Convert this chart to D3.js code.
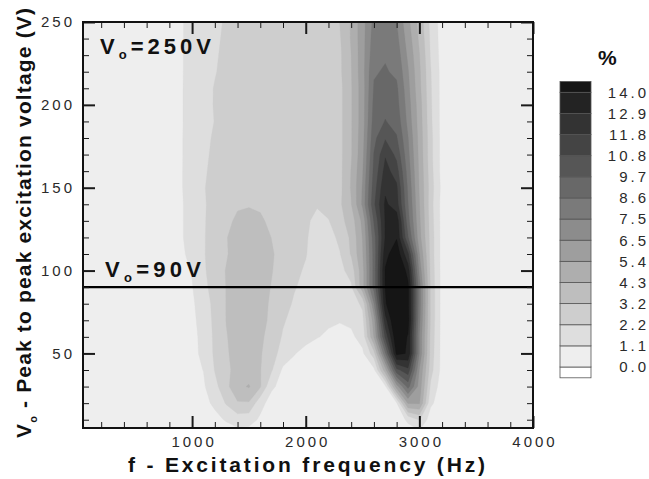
<!DOCTYPE html>
<html>
<head>
<meta charset="utf-8">
<script src="https://cdn.jsdelivr.net/npm/d3@7"></script>
<style>
  html, body { margin: 0; padding: 0; background: #ffffff; }
  svg { display: block; }
  text { font-family: "Liberation Sans", Arial, Helvetica, sans-serif; }
</style>
</head>
<body>
<svg id="chart" width="649" height="479"></svg>
<script>
// Grid coordinates: excitation frequency (Hz) columns and peak-to-peak voltage (V) rows
const freqs = [0, 100, 200, 300, 400, 500, 600, 700, 800, 900, 1000, 1100, 1200, 1300, 1400,
  1500, 1600, 1700, 1800, 1900, 2000, 2100, 2200, 2300, 2400, 2500, 2600, 2700, 2800, 2900,
  3000, 3100, 3200, 3300, 3400, 3500, 3600, 3700, 3800, 3900, 4000];
const volts = [250, 240, 230, 220, 210, 200, 190, 180, 170, 160, 150, 140, 130,
  120, 110, 100, 90, 80, 70, 60, 50, 40, 30, 20, 10, 0];

// Response (%) on the grid, one row per voltage in `volts`, one column per frequency in `freqs`
const pct = [
  [0.5,0.5,0.5,0.5,0.5,0.5,0.5,0.5, 0.6,1.0,1.4,1.7,2.0,2.3,2.5,2.6,2.7,2.7,2.7,2.7,2.7,2.7,2.8,3.22,4.4,6.1,7.8,8.2,7.5,5.7,3.9,1.9,0.6,0.5, 0.5,0.5,0.5,0.5,0.5,0.5,0.5],
  [0.5,0.5,0.5,0.5,0.5,0.5,0.5,0.5, 0.6,1.0,1.4,1.75,2.05,2.35,2.55,2.65,2.7,2.7,2.7,2.7,2.7,2.7,2.8,3.1,4.4,6.1,8.0,8.35,7.8,6.0,4.1,2.0,0.6,0.5, 0.5,0.5,0.5,0.5,0.5,0.5,0.5],
  [0.5,0.5,0.5,0.5,0.5,0.5,0.5,0.5, 0.6,1.0,1.45,1.8,2.1,2.4,2.6,2.7,2.7,2.7,2.7,2.7,2.7,2.7,2.8,3.0,4.3,6.1,8.2,8.5,8.1,6.3,4.35,2.1,0.65,0.5, 0.5,0.5,0.5,0.5,0.5,0.5,0.5],
  [0.5,0.5,0.5,0.5,0.5,0.5,0.5,0.5, 0.6,1.0,1.45,1.85,2.15,2.45,2.6,2.7,2.7,2.7,2.7,2.7,2.7,2.7,2.8,3.0,4.25,6.1,8.5,8.7,8.4,6.6,4.5,2.25,0.7,0.5, 0.5,0.5,0.5,0.5,0.5,0.5,0.5],
  [0.5,0.5,0.5,0.5,0.5,0.5,0.5,0.5, 0.6,1.0,1.5,1.9,2.25,2.5,2.65,2.7,2.7,2.7,2.7,2.7,2.7,2.7,2.8,2.9,4.2,6.0,8.7,9.05,8.8,6.8,4.6,2.3,0.7,0.5, 0.5,0.5,0.5,0.5,0.5,0.5,0.5],
  [0.5,0.5,0.5,0.5,0.5,0.5,0.5,0.5, 0.6,1.0,1.5,1.95,2.25,2.5,2.7,2.75,2.75,2.7,2.7,2.7,2.7,2.7,2.8,2.9,4.2,6.0,8.9,9.4,9.0,7.0,4.8,2.35,0.7,0.5, 0.5,0.5,0.5,0.5,0.5,0.5,0.5],
  [0.5,0.5,0.5,0.5,0.5,0.5,0.5,0.5, 0.6,1.0,1.5,1.95,2.22,2.55,2.75,2.8,2.8,2.75,2.7,2.7,2.7,2.7,2.8,2.9,4.2,6.0,9.1,9.75,9.3,7.2,4.9,2.4,0.7,0.5, 0.5,0.5,0.5,0.5,0.5,0.5,0.5],
  [0.5,0.5,0.5,0.5,0.5,0.5,0.5,0.5, 0.6,1.0,1.55,2.0,2.3,2.6,2.8,2.85,2.85,2.8,2.7,2.7,2.7,2.7,2.8,2.9,4.2,6.1,9.4,10.7,9.8,7.55,5.0,2.5,0.7,0.5, 0.5,0.5,0.5,0.5,0.5,0.5,0.5],
  [0.5,0.5,0.5,0.5,0.5,0.5,0.5,0.5, 0.6,1.0,1.55,2.05,2.35,2.65,2.85,2.9,2.9,2.8,2.7,2.7,2.65,2.65,2.75,2.9,4.2,6.2,9.75,11.7,10.5,7.8,5.1,2.5,0.7,0.5, 0.5,0.5,0.5,0.5,0.5,0.5,0.5],
  [0.5,0.5,0.5,0.5,0.5,0.5,0.5,0.5, 0.6,1.0,1.6,2.1,2.4,2.7,2.9,2.95,2.95,2.85,2.7,2.65,2.6,2.55,2.7,2.9,4.35,6.4,10.0,12.2,11.3,8.1,5.2,2.6,0.7,0.5, 0.5,0.5,0.5,0.5,0.5,0.5,0.5],
  [0.5,0.5,0.5,0.5,0.5,0.5,0.5,0.5, 0.6,1.0,1.6,2.15,2.45,2.75,3.0,3.05,3.0,2.9,2.7,2.6,2.5,2.45,2.65,2.9,4.4,6.6,10.3,12.7,12.0,8.4,5.3,2.7,0.8,0.5, 0.5,0.5,0.5,0.5,0.5,0.5,0.5],
  [0.5,0.5,0.5,0.5,0.5,0.5,0.5,0.5, 0.6,0.95,1.6,2.1,2.5,2.85,3.1,3.15,3.1,2.95,2.7,2.55,2.4,2.3,2.6,3.0,4.25,6.7,10.6,13.1,12.3,8.65,5.45,2.6,0.7,0.5, 0.5,0.5,0.5,0.5,0.5,0.5,0.5],
  [0.5,0.5,0.5,0.5,0.5,0.5,0.5,0.5, 0.6,0.95,1.6,2.1,2.6,3.0,3.35,3.4,3.3,3.05,2.8,2.6,2.4,1.9,2.15,2.85,3.7,5.7,9.8,13.0,13.6,9.0,5.6,2.7,0.7,0.5, 0.5,0.5,0.5,0.5,0.5,0.5,0.5],
  [0.5,0.5,0.5,0.5,0.5,0.5,0.5,0.5, 0.6,0.95,1.6,2.1,2.7,3.15,3.6,3.7,3.6,3.18,2.9,2.65,2.3,1.8,1.85,2.4,3.4,5.45,9.2,13.0,13.9,9.8,5.8,2.8,0.7,0.5, 0.5,0.5,0.5,0.5,0.5,0.5,0.5],
  [0.5,0.5,0.5,0.5,0.5,0.5,0.5,0.5, 0.6,0.9,1.4,2.1,2.75,3.1,3.7,3.8,3.75,3.3,2.85,2.55,2.25,1.75,1.6,2.15,3.3,5.3,9.0,13.6,14.8,12.0,6.55,2.8,0.7,0.5, 0.5,0.5,0.5,0.5,0.5,0.5,0.5],
  [0.5,0.5,0.5,0.5,0.5,0.5,0.5,0.5, 0.6,0.85,1.15,2.05,2.7,3.25,3.7,3.8,3.75,3.25,2.75,2.4,2.1,1.7,1.5,1.9,2.6,5.0,9.0,14.1,15.8,13.5,7.2,2.9,0.7,0.5, 0.5,0.5,0.5,0.5,0.5,0.5,0.5],
  [0.5,0.5,0.5,0.5,0.5,0.5,0.5,0.5, 0.6,0.8,1.05,1.9,2.65,3.22,3.65,3.75,3.6,3.15,2.65,2.25,2.0,1.7,1.5,1.7,2.05,5.0,9.0,14.05,16.0,14.3,8.0,3.0,0.7,0.5, 0.5,0.5,0.5,0.5,0.5,0.5,0.5],
  [0.5,0.5,0.5,0.5,0.5,0.5,0.5,0.5, 0.6,0.75,0.95,1.6,2.55,3.22,3.6,3.7,3.55,3.05,2.5,2.1,1.85,1.6,1.4,1.35,1.7,2.4,7.45,13.8,16.0,14.3,8.0,3.0,0.7,0.5, 0.5,0.5,0.5,0.5,0.5,0.5,0.5],
  [0.5,0.5,0.5,0.5,0.5,0.5,0.5,0.5, 0.6,0.75,0.9,1.45,2.5,3.22,3.6,3.7,3.5,3.0,2.3,1.9,1.6,1.4,1.25,1.15,1.3,1.9,6.0,12.5,15.5,14.5,7.8,3.0,0.7,0.5, 0.5,0.5,0.5,0.5,0.5,0.5,0.5],
  [0.5,0.5,0.5,0.5,0.5,0.5,0.5,0.5, 0.6,0.7,0.9,1.3,2.45,3.15,3.55,3.65,3.4,2.8,2.1,1.7,1.4,1.15,0.95,0.85,0.9,1.5,5.45,11.0,15.0,13.9,7.45,2.9,0.7,0.5, 0.5,0.5,0.5,0.5,0.5,0.5,0.5],
  [0.5,0.5,0.5,0.5,0.5,0.5,0.5,0.5, 0.6,0.7,0.85,1.3,2.4,3.1,3.5,3.6,3.3,2.6,1.8,1.15,0.8,0.6,0.5,0.5,0.6,0.9,2.8,8.5,14.3,13.9,7.45,2.8,0.7,0.5, 0.5,0.5,0.5,0.5,0.5,0.5,0.5],
  [0.5,0.5,0.5,0.5,0.5,0.5,0.5,0.5, 0.6,0.65,0.8,1.12,2.25,3.0,3.5,3.65,3.25,2.3,0.9,0.75,0.55,0.5,0.5,0.5,0.5,0.6,0.85,5.0,10.5,11.5,6.45,2.6,0.7,0.5, 0.5,0.5,0.5,0.5,0.5,0.5,0.5],
  [0.5,0.5,0.5,0.5,0.5,0.5,0.5,0.5, 0.6,0.6,0.7,0.95,1.9,2.9,4.0,4.4,3.3,1.3,0.7,0.5,0.5,0.5,0.5,0.5,0.5,0.5,0.6,0.9,6.0,9.0,6.05,2.0,0.5,0.5, 0.5,0.5,0.5,0.5,0.5,0.5,0.5],
  [0.5,0.5,0.5,0.5,0.5,0.5,0.5,0.5, 0.5,0.5,0.6,0.8,1.3,2.3,3.1,3.1,1.5,0.6,0.5,0.5,0.5,0.5,0.5,0.5,0.5,0.5,0.5,0.6,1.0,5.5,5.5,1.3,0.5,0.5, 0.5,0.5,0.5,0.5,0.5,0.5,0.5],
  [0.5,0.5,0.5,0.5,0.5,0.5,0.5,0.5, 0.5,0.5,0.5,0.6,0.8,1.2,1.7,1.6,0.9,0.5,0.5,0.5,0.5,0.5,0.5,0.5,0.5,0.5,0.5,0.5,0.5,1.3,2.3,0.5,0.5,0.5, 0.5,0.5,0.5,0.5,0.5,0.5,0.5],
  [0.4,0.4,0.4,0.4,0.4,0.4,0.4,0.4, 0.4,0.4,0.4,0.4,0.4,0.4,0.4,0.4,0.4,0.4,0.4,0.4,0.4,0.4,0.4,0.4,0.4,0.4,0.4,0.4,0.4,0.4,0.4,0.4,0.4,0.4, 0.4,0.4,0.4,0.4,0.4,0.4,0.4]
];

// Contour levels (%) and fill for each band: below 0, then at/above each level
const levels = [0.0, 1.1, 2.2, 3.2, 4.3, 5.4, 6.5, 7.5, 8.6, 9.7, 10.8, 11.8, 12.9, 14.0];
const levelLabels = ["0.0", "1.1", "2.2", "3.2", "4.3", "5.4", "6.5", "7.5", "8.6", "9.7", "10.8", "11.8", "12.9", "14.0"];
const bandColors = ["#ffffff", "#eeeeee", "#dedede", "#cecece", "#bebebe", "#aeaeae", "#9e9e9e",
  "#8c8c8c", "#7a7a7a", "#686868", "#565656", "#444444", "#333333", "#232323", "#151515", "#080808"];

// Axis ticks and annotations
const xMajor = [1000, 2000, 3000, 4000];
const yMajor = [50, 100, 150, 200, 250];
const markVoltage = 90;

const svg = d3.select("#chart");
svg.append("rect").attr("width", 649).attr("height", 479).attr("fill", "#ffffff");

const x = d3.scaleLinear().domain([40, 4000]).range([83, 533]);
const y = d3.scaleLinear().domain([5, 250]).range([428, 22]);

svg.append("defs").append("clipPath").attr("id", "plotClip")
  .append("rect").attr("x", x.range()[0]).attr("y", y.range()[1])
  .attr("width", x.range()[1] - x.range()[0]).attr("height", y.range()[0] - y.range()[1]);

// Filled contours: grid cell (i, j) sits at (i + 0.5, j + 0.5) in contour coordinates
const nx = freqs.length, ny = volts.length;
const df = freqs[1] - freqs[0], dv = volts[1] - volts[0];
const gridToScreen = d3.geoTransform({
  point(gx, gy) {
    this.stream.point(x(freqs[0] + (gx - 0.5) * df), y(volts[0] + (gy - 0.5) * dv));
  }
});
const contourPath = d3.geoPath(gridToScreen);
const bands = d3.contours().size([nx, ny]).thresholds(levels)(pct.flat());

svg.append("g").attr("clip-path", "url(#plotClip)")
  .selectAll("path").data(bands).join("path")
  .attr("d", contourPath)
  .attr("fill", (d, i) => bandColors[i + 1])
  .attr("stroke", (d, i) => bandColors[i + 1])
  .attr("stroke-width", 0.3);

// Reference voltage line
svg.append("line")
  .attr("x1", x(40)).attr("x2", x(4000))
  .attr("y1", y(markVoltage)).attr("y2", y(markVoltage))
  .attr("stroke", "#000").attr("stroke-width", 2.4);

// Axes with inward ticks on all four sides
const xMinor = d3.range(200, 4000, 200).filter(v => v % 1000 !== 0);
const yMinor = d3.range(10, 250, 10).filter(v => v % 50 !== 0);

function styleAxis(g, width) {
  g.select(".domain").remove();
  g.selectAll(".tick line").attr("stroke", "#1a1a1a").attr("stroke-width", width);
  g.selectAll("text")
    .attr("font-family", "'Liberation Sans', Arial, sans-serif")
    .attr("font-size", 15).attr("fill", "#2a2a2a").attr("letter-spacing", 3);
}

const gx = svg.append("g").attr("transform", `translate(0,${y.range()[0]})`)
  .call(d3.axisBottom(x).tickValues(xMajor).tickSize(-12).tickPadding(8).tickFormat(d3.format("d")))
  .call(g => styleAxis(g, 2));
gx.selectAll("text").attr("dx", 1.5);
svg.append("g").attr("transform", `translate(0,${y.range()[0]})`)
  .call(d3.axisBottom(x).tickValues(xMinor).tickSize(-6).tickFormat(""))
  .call(g => styleAxis(g, 1));
svg.append("g").attr("transform", `translate(0,${y.range()[1]})`)
  .call(d3.axisTop(x).tickValues(xMajor).tickSize(-12).tickFormat(""))
  .call(g => styleAxis(g, 2));
svg.append("g").attr("transform", `translate(0,${y.range()[1]})`)
  .call(d3.axisTop(x).tickValues(xMinor).tickSize(-6).tickFormat(""))
  .call(g => styleAxis(g, 1));

svg.append("g").attr("transform", `translate(${x.range()[0]},0)`)
  .call(d3.axisLeft(y).tickValues(yMajor).tickSize(-12).tickPadding(8).tickFormat(d3.format("d")))
  .call(g => styleAxis(g, 2));
svg.append("g").attr("transform", `translate(${x.range()[0]},0)`)
  .call(d3.axisLeft(y).tickValues(yMinor).tickSize(-6).tickFormat(""))
  .call(g => styleAxis(g, 1));
svg.append("g").attr("transform", `translate(${x.range()[1]},0)`)
  .call(d3.axisRight(y).tickValues(yMajor).tickSize(-12).tickFormat(""))
  .call(g => styleAxis(g, 2));
svg.append("g").attr("transform", `translate(${x.range()[1]},0)`)
  .call(d3.axisRight(y).tickValues(yMinor).tickSize(-6).tickFormat(""))
  .call(g => styleAxis(g, 1));

// Plot frame
svg.append("rect")
  .attr("x", x.range()[0]).attr("y", y.range()[1])
  .attr("width", x.range()[1] - x.range()[0]).attr("height", y.range()[0] - y.range()[1])
  .attr("fill", "none").attr("stroke", "#111").attr("stroke-width", 2);

// In-plot annotations
function voltLabel(px, py, value, len) {
  const t = svg.append("text").attr("x", px).attr("y", py)
    .attr("font-size", 22).attr("font-weight", "bold").attr("fill", "#111")
    .attr("textLength", len).attr("lengthAdjust", "spacing");
  t.append("tspan").text("V");
  t.append("tspan").attr("font-size", 13).attr("dy", 5).text("o");
  t.append("tspan").attr("dy", -5).text(`=${value}V`);
}
voltLabel(100, 54, 250, 111);
voltLabel(105, 277, markVoltage, 96);

// Axis titles
svg.append("text").attr("x", 128).attr("y", 472)
  .attr("font-size", 21).attr("font-weight", "bold").attr("fill", "#111")
  .attr("textLength", 357).attr("lengthAdjust", "spacing")
  .text("f - Excitation frequency (Hz)");

const yTitle = svg.append("text").attr("transform", "translate(31,438) rotate(-90)")
  .attr("font-size", 21).attr("font-weight", "bold").attr("fill", "#111")
  .attr("textLength", 430).attr("lengthAdjust", "spacing");
yTitle.append("tspan").text("V");
yTitle.append("tspan").attr("font-size", 11).attr("dy", 6).text("o");
yTitle.append("tspan").attr("dy", -6).text(" - Peak to peak excitation voltage (V)");

// Colour legend
const ly = d3.scaleLinear().domain([0, levels.length - 1]).range([367, 92.3]);
const legend = svg.append("g");
const boxX = 560, boxW = 31, half = 10.8;
const boxes = [];
boxes.push({ y0: ly(0), y1: ly(0) + half, fill: bandColors[0] });
for (let k = 0; k < levels.length - 1; k++) {
  boxes.push({ y0: ly(k + 1), y1: ly(k), fill: bandColors[k + 1] });
}
boxes.push({ y0: ly(levels.length - 1) - half, y1: ly(levels.length - 1), fill: bandColors[levels.length] });
legend.selectAll("rect").data(boxes).join("rect")
  .attr("x", boxX).attr("width", boxW)
  .attr("y", d => d.y0).attr("height", d => d.y1 - d.y0)
  .attr("fill", d => d.fill).attr("stroke", "#555").attr("stroke-width", 0.8);
legend.selectAll("text").data(levelLabels).join("text")
  .attr("x", 649).attr("y", (d, i) => ly(i) + 5.4)
  .attr("text-anchor", "end")
  .attr("font-size", 15).attr("letter-spacing", 3).attr("fill", "#2a2a2a")
  .text(d => d);
svg.append("text").attr("x", 598).attr("y", 65)
  .attr("font-size", 21).attr("font-weight", "bold").attr("fill", "#111")
  .text("%");
</script>
</body>
</html>
